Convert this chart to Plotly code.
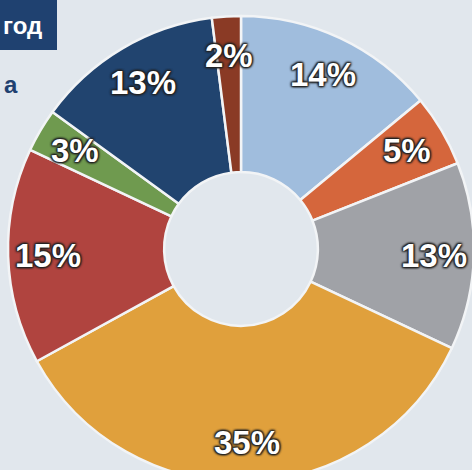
import math
import plotly.graph_objects as go

categories = ["A", "B", "C", "D", "E", "F", "G", "H"]
values = [14, 5, 13, 35, 15, 3, 13, 2]
labels = ["14%", "5%", "13%", "35%", "15%", "3%", "13%", "2%"]
colors = ["#a0bddd", "#d5663c", "#a0a2a7", "#e0a03c", "#b0443f", "#6f9a4f", "#21446f", "#8a3a25"]

W, H = 480, 500
cx, cy, R = 241, 249, 233

dom_x = [(cx - R) / W, (cx + R) / W]
dom_y = [1 - (cy + R) / H, 1 - (cy - R) / H]

fig = go.Figure()
fig.add_trace(go.Pie(
    labels=categories, values=values, sort=False, direction="clockwise", rotation=0,
    hole=0.33, marker=dict(colors=colors, line=dict(color="#f2f4f6", width=2.5)),
    textinfo="none", showlegend=False, domain=dict(x=dom_x, y=dom_y), hoverinfo="skip",
))

# label positions from cumulative values
total = sum(values)
annotations = []
acc = 0
rl = 0.83 * R
shadow = "1px 1px 2px #222, -1px -1px 2px #222, 1px -1px 2px #222, -1px 1px 2px #222, 0 0 3px #222"
for v, t in zip(values, labels):
    ang = math.radians((acc + v / 2) / total * 360)
    acc += v
    px = cx + rl * math.sin(ang)
    py = cy - rl * math.cos(ang)
    annotations.append(dict(
        text="<b>" + t + "</b>", x=px / W, y=1 - py / H, xref="paper", yref="paper",
        xanchor="center", yanchor="middle", showarrow=False,
        font=dict(family="Liberation Sans, Arial", size=33, color="white", shadow=shadow),
    ))

annotations += [
    dict(text="<b>год</b>", x=44 / W, y=1 - 25 / H, xref="paper", yref="paper",
         xanchor="right", yanchor="middle", showarrow=False,
         font=dict(family="Liberation Sans, Arial", size=24, color="white")),
    dict(text="<b>а</b>", x=2 / W, y=1 - 84 / H, xref="paper", yref="paper",
         xanchor="left", yanchor="middle", showarrow=False,
         font=dict(family="Liberation Sans, Arial", size=24, color="#1f4170")),
]

fig.update_layout(
    width=W, height=H, margin=dict(l=0, r=0, t=0, b=0),
    paper_bgcolor="#e1e7ed", plot_bgcolor="#e1e7ed",
    shapes=[dict(type="rect", xref="paper", yref="paper", x0=-0.01, x1=57 / W,
                 y0=1 - 50 / H, y1=1.01, fillcolor="#1f4170", line=dict(width=0), layer="below")],
    annotations=annotations,
)

fig.write_html("out.html", config={"displayModeBar": False},
               post_script="document.body.style.margin='0';document.body.style.overflow='hidden';document.documentElement.style.overflow='hidden';")
